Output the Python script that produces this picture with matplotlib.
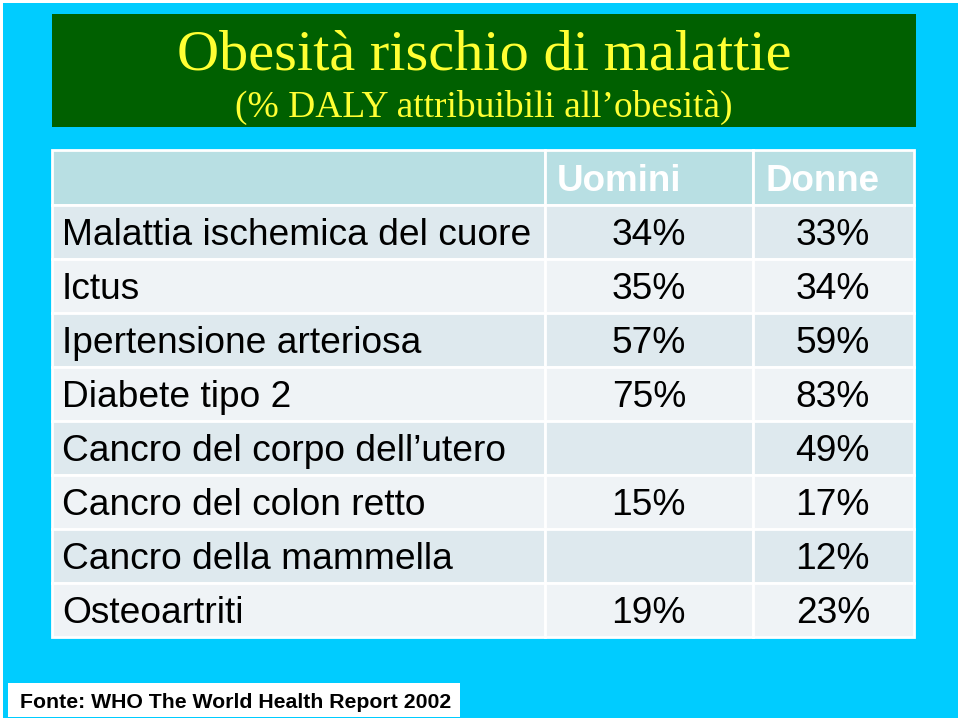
import matplotlib.pyplot as plt
from matplotlib.patches import Rectangle

# table data
diseases = [
    "Malattia ischemica del cuore",
    "Ictus",
    "Ipertensione arteriosa",
    "Diabete tipo 2",
    "Cancro del corpo dell\u2019utero",
    "Cancro del colon retto",
    "Cancro della mammella",
    "Osteoartriti",
]
uomini = [34, 35, 57, 75, None, 15, None, 19]
donne = [33, 34, 59, 83, 49, 17, 12, 23]
headers = ["", "Uomini", "Donne"]

title = "Obesit\u00e0 rischio di malattie"
subtitle = "(% DALY attribuibili all\u2019obesit\u00e0)"
source = "Fonte: WHO The World Health Report 2002"

# layout in pixel coordinates
col_edges = [52, 545, 753, 914]
top = 150
header_h = 55
row_h = 54

fig = plt.figure(figsize=(9.6, 7.2), dpi=100)
fig.patch.set_facecolor("white")
ax = fig.add_axes([0, 0, 1, 1])
ax.set_xlim(0, 960)
ax.set_ylim(720, 0)
ax.axis("off")

# background
ax.add_patch(Rectangle((3, 3), 955, 715, facecolor="#00CCFF", edgecolor="none"))

# title box
ax.add_patch(Rectangle((52, 14), 864, 113, facecolor="#006000", edgecolor="none"))
ax.text(484, 70, title, ha="center", va="baseline", color="#FFFF33",
        family="Liberation Serif", fontsize=42)
ax.text(484, 117, subtitle, ha="center", va="baseline", color="#FFFF33",
        family="Liberation Serif", fontsize=27)

# header row
for c in range(3):
    x0, x1 = col_edges[c], col_edges[c + 1]
    ax.add_patch(Rectangle((x0, top), x1 - x0, header_h, facecolor="#B8DFE3",
                           edgecolor="white", linewidth=2))
    if headers[c]:
        ax.text(x0 + 12, top + 41, headers[c], ha="left",
                va="baseline", color="white", fontweight="bold",
                family="Liberation Sans", fontsize=26.5)

# body rows
for r, name in enumerate(diseases):
    y0 = top + header_h + r * row_h
    fc = "#DEE9EE" if r % 2 == 0 else "#EFF3F6"
    for c in range(3):
        x0, x1 = col_edges[c], col_edges[c + 1]
        ax.add_patch(Rectangle((x0, y0), x1 - x0, row_h, facecolor=fc,
                               edgecolor="white", linewidth=2))
    yb = y0 + 40
    ax.text(62, yb, name, ha="left", va="baseline", color="black",
            family="Liberation Sans", fontsize=26.7)
    if uomini[r] is not None:
        ax.text(686, yb, f"{uomini[r]}%", ha="right", va="baseline", color="black",
                family="Liberation Sans", fontsize=26.7)
    if donne[r] is not None:
        ax.text(870, yb, f"{donne[r]}%", ha="right", va="baseline", color="black",
                family="Liberation Sans", fontsize=26.7)

# source box
ax.add_patch(Rectangle((8, 683), 452, 34, facecolor="white", edgecolor="none"))
ax.text(20, 708, source, ha="left", va="baseline", color="black",
        fontweight="bold", family="Liberation Sans", fontsize=15.3)

fig.savefig("out.png", dpi=100, facecolor=fig.get_facecolor())
